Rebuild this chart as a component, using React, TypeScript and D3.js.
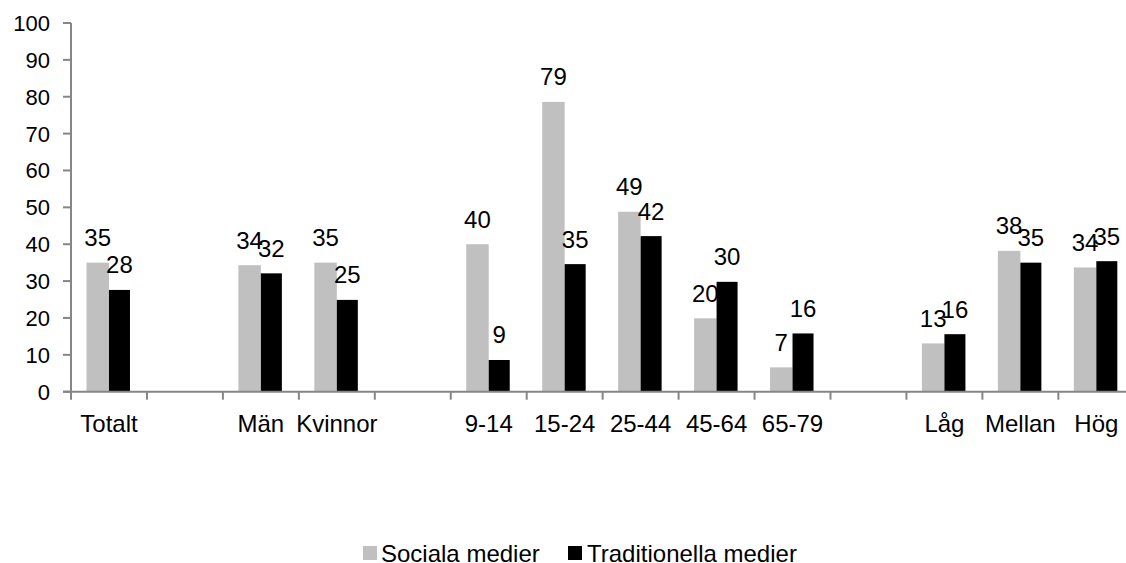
import React from "react";
import * as d3 from "d3";

const categories = ["Totalt", "", "Män", "Kvinnor", "", "9-14", "15-24", "25-44", "45-64", "65-79", "", "Låg", "Mellan", "Hög"];
const sociala: (number | null)[] = [35, null, 34.3, 35, null, 40, 78.6, 48.8, 19.9, 6.6, null, 13.1, 38.2, 33.7];
const traditionella: (number | null)[] = [27.6, null, 32.1, 24.9, null, 8.6, 34.6, 42.2, 29.8, 15.8, null, 15.6, 35, 35.4];
const yTicks = [0, 10, 20, 30, 40, 50, 60, 70, 80, 90, 100];
const seriesNames = ["Sociala medier", "Traditionella medier"];
const seriesColors = ["#c0c0c0", "#000000"];

const W = 1126;
const H = 563;
const left = 71;
const slotW = 75.95;
const top = 23;
const bottom = 391.7;
const FONT = "'Liberation Sans', Arial, sans-serif";

export default function App() {
  const x = d3
    .scaleBand<number>()
    .domain(categories.map((_, i) => i))
    .range([left, left + slotW * categories.length])
    .padding(0);
  const y = d3.scaleLinear().domain([0, 100]).range([bottom, top]);
  const barWs = [22.5, 21];

  const bars: JSX.Element[] = [];
  const labels: JSX.Element[] = [];
  [sociala, traditionella].forEach((series, si) => {
    series.forEach((v, i) => {
      if (v == null) return;
      const c = (x(i) as number) + x.bandwidth() / 2;
      const x0 = si === 0 ? c - barWs[0] : c;
      const w = barWs[si];
      bars.push(
        <rect key={`b${si}-${i}`} x={x0} y={y(v)} width={w} height={y(0) - y(v)} fill={seriesColors[si]} />
      );
      labels.push(
        <text key={`l${si}-${i}`} x={x0 + w / 2} y={y(v) - 16.5} textAnchor="middle" fontSize={24} fontFamily={FONT} fill="#000">
          {Math.round(v)}
        </text>
      );
    });
  });

  const legendItems = [
    { sq: 363, tx: 381 },
    { sq: 568, tx: 587 },
  ];

  return (
    <svg width={W} height={H} style={{ position: "absolute", left: 0, top: 0, background: "#fff" }}>
      {bars}
      {/* y axis */}
      <line x1={left} x2={left} y1={top} y2={bottom} stroke="#868686" strokeWidth={2} />
      {yTicks.map((t) => (
        <g key={`yt${t}`}>
          <line x1={left - 8} x2={left} y1={y(t)} y2={y(t)} stroke="#868686" strokeWidth={2} />
          <text x={50} y={y(t) + 8} textAnchor="end" fontSize={22} fontFamily={FONT} fill="#000">
            {t}
          </text>
        </g>
      ))}
      {/* x axis */}
      <line x1={left - 8} x2={left + slotW * categories.length} y1={bottom} y2={bottom} stroke="#868686" strokeWidth={2} />
      {d3.range(categories.length + 1).map((i) => (
        <line key={`xt${i}`} x1={left + slotW * i} x2={left + slotW * i} y1={bottom} y2={bottom + 8} stroke="#868686" strokeWidth={2} />
      ))}
      {categories.map((c, i) => (
        <text key={`c${i}`} x={(x(i) as number) + x.bandwidth() / 2} y={431.5} textAnchor="middle" fontSize={24} fontFamily={FONT} fill="#000">
          {c}
        </text>
      ))}
      {labels}
      {/* legend */}
      {legendItems.map((it, i) => (
        <g key={`lg${i}`}>
          <rect x={it.sq} y={546} width={14} height={14} fill={seriesColors[i]} />
          <text x={it.tx} y={561.5} fontSize={24} fontFamily={FONT} fill="#000">{seriesNames[i]}</text>
        </g>
      ))}
    </svg>
  );
}
